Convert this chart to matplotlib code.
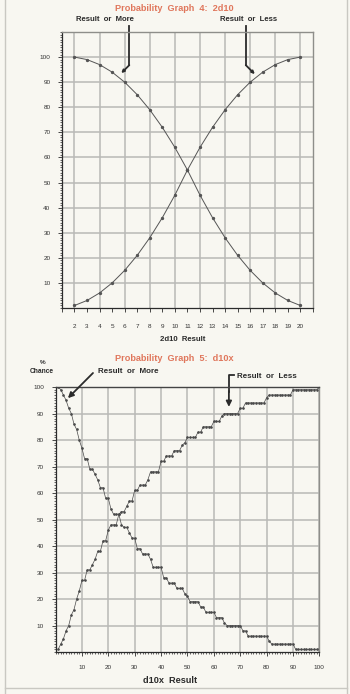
import matplotlib.pyplot as plt
from matplotlib.ticker import MultipleLocator
from matplotlib.lines import Line2D

plt.rcParams['font.family'] = ['Liberation Sans', 'DejaVu Sans']

# Graph 4: sum of two d10
sum_2d10 = list(range(2, 21))
or_less_2d10 = [1, 3, 6, 10, 15, 21, 28, 36, 45, 55, 64, 72, 79, 85, 90, 94, 97, 99, 100]
or_more_2d10 = [100, 99, 97, 94, 90, 85, 79, 72, 64, 55, 45, 36, 28, 21, 15, 10, 6, 3, 1]

# Graph 5: d10 times d10
result_d10x = list(range(1, 101))
or_less_d10x = [1, 3, 5, 8, 10, 14, 16, 20, 23, 27,
                27, 31, 31, 33, 35, 38, 38, 42, 42, 46,
                48, 48, 48, 52, 53, 53, 55, 57, 57, 61,
                61, 63, 63, 63, 65, 68, 68, 68, 68, 72,
                72, 74, 74, 74, 76, 76, 76, 78, 79, 81,
                81, 81, 81, 83, 83, 85, 85, 85, 85, 87,
                87, 87, 89, 90, 90, 90, 90, 90, 90, 92,
                92, 94, 94, 94, 94, 94, 94, 94, 94, 96,
                97, 97, 97, 97, 97, 97, 97, 97, 97, 99,
                99, 99, 99, 99, 99, 99, 99, 99, 99, 100]
or_more_d10x = [100, 99, 97, 95, 92, 90, 86, 84, 80, 77,
                73, 73, 69, 69, 67, 65, 62, 62, 58, 58,
                54, 52, 52, 52, 48, 47, 47, 45, 43, 43,
                39, 39, 37, 37, 37, 35, 32, 32, 32, 32,
                28, 28, 26, 26, 26, 24, 24, 24, 22, 21,
                19, 19, 19, 19, 17, 17, 15, 15, 15, 15,
                13, 13, 13, 11, 10, 10, 10, 10, 10, 10,
                8, 8, 6, 6, 6, 6, 6, 6, 6, 6,
                4, 3, 3, 3, 3, 3, 3, 3, 3, 3,
                1, 1, 1, 1, 1, 1, 1, 1, 1, 1]

sum_labels = ['' if v in (1, 21) else str(v) for v in range(1, 22)]

paper = '#f8f7f1'
ink = '#2b2b2b'
grid_c = '#b9b9b6'
title_c = '#e0775c'

fig = plt.figure(figsize=(3.5, 6.94), dpi=100, facecolor=paper)

# page frame
for xs, ys in [([0.015, 0.015], [0.0, 1.0]), ([0.99, 0.99], [0.0, 1.0]),
               ([0.015, 0.99], [0.009, 0.009])]:
    fig.add_artist(Line2D(xs, ys, color='#c9c8c2', lw=1.0, transform=fig.transFigure))


def style_axes(ax):
    ax.set_facecolor(paper)
    ax.grid(True, which='major', color=grid_c, lw=1.1)
    ax.set_axisbelow(True)
    for s in ['left', 'bottom']:
        ax.spines[s].set_color(ink)
        ax.spines[s].set_linewidth(0.9)
    for s in ['top', 'right']:
        ax.spines[s].set_color('#8e8e8a')
        ax.spines[s].set_linewidth(1.0)
    ax.tick_params(which='major', direction='out', length=3.2, width=0.6,
                   color=ink, labelsize=4.6, labelcolor='#333333', pad=5)
    ax.tick_params(which='minor', direction='out', length=1.6, width=0.5, color=ink)
    ax.tick_params(top=False, right=False)


# ---- Probability Graph 4: 2d10 ----
ax1 = fig.add_axes([0.177, 0.5562, 0.717, 0.3977])
style_axes(ax1)
ax1.set_xlim(1, 21)
ax1.set_ylim(0, 110)
# every result gets a tick and label, grid lines only on even results
ax1.xaxis.remove_overlapping_locs = False
ax1.set_xticks(range(1, 22))
ax1.set_xticklabels(sum_labels)
ax1.tick_params(axis='x', which='major', pad=8)
ax1.set_xticks(range(2, 21, 2), minor=True)
ax1.tick_params(axis='x', which='minor', length=0)
ax1.xaxis.grid(False, which='major')
ax1.xaxis.grid(True, which='minor', color=grid_c, lw=1.1)
ax1.set_yticks(range(10, 101, 10))
ax1.yaxis.set_minor_locator(MultipleLocator(1))

ax1.plot(sum_2d10, or_more_2d10, color='#555555', lw=0.7, marker='o', ms=1.4)
ax1.plot(sum_2d10, or_less_2d10, color='#555555', lw=0.7, marker='o', ms=1.4)

ax1.text(9.95, 119.2, 'Probability  Graph  4:  2d10', color=title_c, fontsize=6.6,
         fontweight='bold', ha='center', va='center', clip_on=False)
ax1.text(4.46, 114.8, 'Result  or  More', color=ink, fontsize=5.6, fontweight='bold',
         ha='center', va='center', clip_on=False)
ax1.text(15.9, 114.8, 'Result  or  Less', color=ink, fontsize=5.6, fontweight='bold',
         ha='center', va='center', clip_on=False)
ax1.text(10.6, -12.4, '2d10  Result', color=ink, fontsize=5.6, fontweight='bold',
         ha='center', va='center', clip_on=False)

# bent pointers to the curves
ax1.plot([6.37, 6.37], [112.4, 96.8], color=ink, lw=1.3, clip_on=False)
ax1.annotate('', xy=(5.73, 93.6), xytext=(6.37, 96.8),
             arrowprops=dict(arrowstyle='-|>', color=ink, lw=1.3, mutation_scale=4,
                             shrinkA=0, shrinkB=0), annotation_clip=False)
ax1.plot([15.65, 15.65], [112.4, 96.8], color=ink, lw=1.3, clip_on=False)
ax1.annotate('', xy=(16.37, 93.2), xytext=(15.65, 96.8),
             arrowprops=dict(arrowstyle='-|>', color=ink, lw=1.3, mutation_scale=4,
                             shrinkA=0, shrinkB=0), annotation_clip=False)

# ---- Probability Graph 5: d10x ----
ax2 = fig.add_axes([0.1586, 0.0605, 0.754, 0.3818])
style_axes(ax2)
ax2.spines['top'].set_color('#444444')
ax2.set_xlim(0, 100)
ax2.set_ylim(0, 100)
ax2.set_xticks(range(10, 101, 10))
ax2.set_yticks(range(10, 101, 10))
ax2.xaxis.set_minor_locator(MultipleLocator(1))
ax2.yaxis.set_minor_locator(MultipleLocator(1))
ax2.tick_params(axis='x', which='major', pad=6)

ax2.plot(result_d10x, or_more_d10x, color='#4a4a4a', lw=0.5, marker='o', ms=0.9)
ax2.plot(result_d10x, or_less_d10x, color='#4a4a4a', lw=0.5, marker='o', ms=0.9)

ax2.text(44.9, 110.6, 'Probability  Graph  5:  d10x', color=title_c, fontsize=6.6,
         fontweight='bold', ha='center', va='center', clip_on=False)
ax2.text(27.5, 105.7, 'Result  or  More', color=ink, fontsize=5.8, fontweight='bold',
         ha='center', va='center', clip_on=False)
ax2.text(80.1, 103.8, 'Result  or  Less', color=ink, fontsize=5.8, fontweight='bold',
         ha='center', va='center', clip_on=False)
ax2.text(-4.7, 109.2, '%', color=ink, fontsize=4.6, fontweight='bold',
         ha='center', va='center', clip_on=False)
ax2.text(-5.1, 105.7, 'Chance', color=ink, fontsize=4.8, fontweight='bold',
         ha='center', va='center', clip_on=False)
ax2.text(43.4, -10.6, 'd10x  Result', color=ink, fontsize=6.6, fontweight='bold',
         ha='center', va='center', clip_on=False)

ax2.annotate('', xy=(4.7, 95.8), xytext=(14.2, 105.3),
             arrowprops=dict(arrowstyle='-|>', color=ink, lw=1.3, mutation_scale=8,
                             shrinkA=0, shrinkB=0), annotation_clip=False)
ax2.plot([67.6, 65.7, 65.7], [104.5, 104.5, 98.0], color=ink, lw=1.3, clip_on=False)
ax2.annotate('', xy=(65.7, 92.5), xytext=(65.7, 98.5),
             arrowprops=dict(arrowstyle='-|>', color=ink, lw=1.3, mutation_scale=8,
                             shrinkA=0, shrinkB=0), annotation_clip=False)

fig.savefig('out.png', dpi=100, facecolor=paper)
